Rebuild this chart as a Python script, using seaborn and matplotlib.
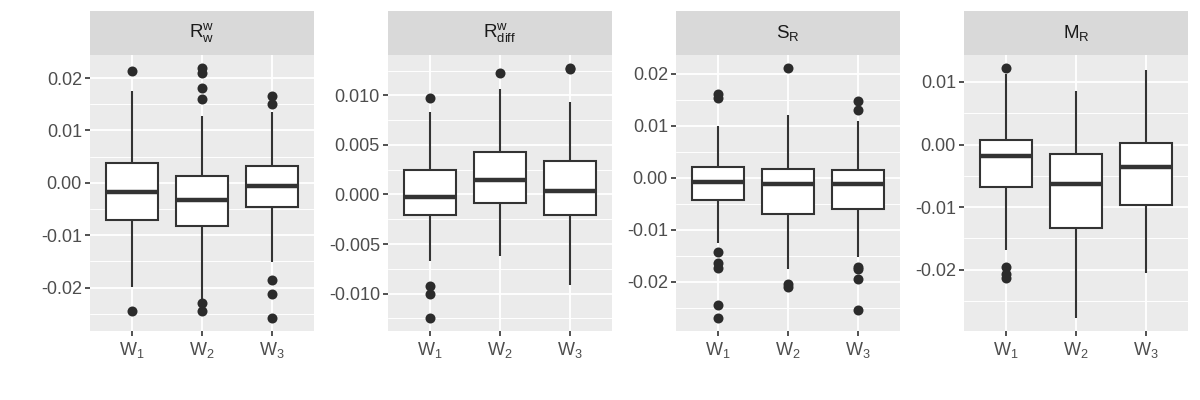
import numpy as np
import pandas as pd
import matplotlib
matplotlib.use('Agg')
import matplotlib.pyplot as plt
import seaborn as sns
from matplotlib.ticker import MultipleLocator, FuncFormatter

sns.set_style('white')
plt.rcParams['font.family'] = ['Liberation Sans', 'DejaVu Sans']
plt.rcParams['mathtext.default'] = 'regular'

# 박스 요약값
groups = ['W1', 'W2', 'W3']
group_labels = ['$W_1$', '$W_2$', '$W_3$']
panel_names = ['$R_w^w$', '$R_{diff}^w$', '$S_R$', '$M_R$']
panel_steps = [0.01, 0.005, 0.01, 0.01]
panel_fmt = ['%.2f', '%.3f', '%.2f', '%.2f']

rww_whislo = [-0.0199, -0.0224, -0.0151]
rww_q1 = [-0.0071, -0.0083, -0.0047]
rww_med = [-0.0018, -0.0032, -0.0006]
rww_q3 = [0.0037, 0.0013, 0.0032]
rww_whishi = [0.0176, 0.0128, 0.0136]
rww_out = [[0.0213, -0.0244],
           [0.0220, 0.0209, 0.0181, 0.0159, -0.0230, -0.0244],
           [0.0165, 0.0150, -0.0185, -0.0213, -0.0259]]

rdiff_whislo = [-0.0067, -0.0062, -0.0091]
rdiff_q1 = [-0.0021, -0.0009, -0.0021]
rdiff_med = [-0.0003, 0.0015, 0.0004]
rdiff_q3 = [0.0025, 0.0043, 0.0034]
rdiff_whishi = [0.0083, 0.0106, 0.0093]
rdiff_out = [[0.0097, -0.0092, -0.0100, -0.0125],
             [0.0122],
             [0.0128, 0.0127]]

sr_whislo = [-0.0125, -0.0176, -0.0152]
sr_q1 = [-0.0043, -0.0069, -0.0060]
sr_med = [-0.0008, -0.0013, -0.0012]
sr_q3 = [0.0021, 0.0017, 0.0014]
sr_whishi = [0.0100, 0.0121, 0.0109]
sr_out = [[0.0162, 0.0154, -0.0144, -0.0165, -0.0173, -0.0245, -0.0271],
          [0.0212, -0.0204, -0.0211],
          [0.0148, 0.0130, -0.0171, -0.0176, -0.0195, -0.0254]]

mr_whislo = [-0.0168, -0.0278, -0.0206]
mr_q1 = [-0.0068, -0.0134, -0.0096]
mr_med = [-0.0019, -0.0063, -0.0036]
mr_q3 = [0.0007, -0.0015, 0.0002]
mr_whishi = [0.0112, 0.0086, 0.0119]
mr_out = [[0.0123, -0.0196, -0.0207, -0.0214], [], []]

panels = [
    (rww_whislo, rww_q1, rww_med, rww_q3, rww_whishi, rww_out),
    (rdiff_whislo, rdiff_q1, rdiff_med, rdiff_q3, rdiff_whishi, rdiff_out),
    (sr_whislo, sr_q1, sr_med, sr_q3, sr_whishi, sr_out),
    (mr_whislo, mr_q1, mr_med, mr_q3, mr_whishi, mr_out),
]

fig = plt.figure(figsize=(12, 4), dpi=100)
lefts = [90, 388, 676, 964]
pw, top_px, bot_px, strip_top = 224, 55, 331, 11

for i, (wlo, q1, med, q3, whi, outs) in enumerate(panels):
    # 5개 값 -> 분위수가 그대로 q1/중앙값/q3가 되도록
    box_rows = []
    out_rows = []
    for g, a, b, c, d, e, o in zip(groups, wlo, q1, med, q3, whi, outs):
        for v in (a, b, c, d, e):
            box_rows.append({'group': g, 'value': v})
        for v in o:
            out_rows.append({'group': g, 'value': v})
    box_df = pd.DataFrame(box_rows)
    out_df = pd.DataFrame(out_rows, columns=['group', 'value'])

    ax = fig.add_axes([lefts[i] / 1200, 1 - bot_px / 400, pw / 1200, (bot_px - top_px) / 400])
    ax.set_facecolor('#EBEBEB')
    sns.boxplot(data=box_df, x='group', y='value', order=groups, ax=ax,
                whis=(0, 100), showfliers=False, showcaps=False, width=0.75,
                color='white', saturation=1, linecolor='#333333', linewidth=1.5,
                medianprops={'linewidth': 3.2, 'color': '#333333'}, zorder=3)
    if len(out_df):
        sns.stripplot(data=out_df, x='group', y='value', order=groups, ax=ax,
                      jitter=False, color='#2B2B2B', size=7.2, linewidth=0, zorder=4)

    allv = list(box_df['value']) + list(out_df['value'])
    lo, hi = min(allv), max(allv)
    pad = (hi - lo) * 0.05
    ax.set_ylim(lo - pad, hi + pad)
    ax.set_xlim(-0.6, 2.6)

    step = panel_steps[i]
    ax.yaxis.set_major_locator(MultipleLocator(step))
    ax.yaxis.set_minor_locator(MultipleLocator(step / 2))
    fmt = panel_fmt[i]
    ax.yaxis.set_major_formatter(FuncFormatter(lambda v, p, f=fmt: (f % (0.0 if abs(v) < 1e-12 else v))))
    ax.set_xticks(range(3))
    ax.set_xticklabels(group_labels)

    ax.grid(which='major', color='white', linewidth=1.3)
    ax.grid(which='minor', axis='y', color='white', linewidth=0.7)
    ax.set_axisbelow(True)
    for s in ax.spines.values():
        s.set_visible(False)
    ax.tick_params(axis='both', which='major', left=True, bottom=True, length=3.8, width=1.2,
                   color='#333333', labelcolor='#4D4D4D', labelsize=13, pad=2)
    ax.tick_params(axis='both', which='minor', left=False, bottom=False, length=0)
    ax.tick_params(axis='x', pad=3)
    ax.set_xlabel('')
    ax.set_ylabel('')

    sax = fig.add_axes([lefts[i] / 1200, 1 - top_px / 400, pw / 1200, (top_px - strip_top) / 400])
    sax.set_facecolor('#D9D9D9')
    sax.set_xticks([])
    sax.set_yticks([])
    for s in sax.spines.values():
        s.set_visible(False)
    sax.text(0.5, 0.5, panel_names[i], ha='center', va='center', transform=sax.transAxes,
             fontsize=13.5, color='#1A1A1A')

fig.savefig('out.png', dpi=100, facecolor='white')
